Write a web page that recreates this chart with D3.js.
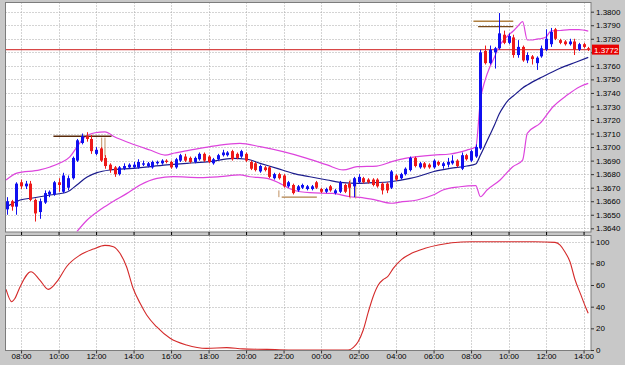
<!DOCTYPE html>
<html>
<head>
<meta charset="utf-8">
<script src="https://cdn.jsdelivr.net/npm/d3@7"></script>
<style>
  body { margin: 0; background: #c8c8c8; }
  svg { display: block; font-family: "Liberation Sans", Arial, sans-serif; }
</style>
</head>
<body>
<div id="chart"></div>
<script>
// 15 minute bars, 07:15 .. 14:15 next day (125 bars)
var opens  = [1.3654,1.3660,1.3656,1.3674,1.3671,1.3673,1.3661,1.3652,1.3659,1.3665,
              1.3665,1.3674,1.3667,1.3670,1.3677,1.3690,1.3703,1.3708,1.3706,1.3695,
              1.3699,1.3692,1.3687,1.3685,1.3680,1.3684,1.3685,1.3685,1.3685,1.3687,
              1.3686,1.3685,1.3688,1.3688,1.3690,1.3689,1.3685,1.3690,1.3693,1.3692,
              1.3689,1.3691,1.3695,1.3693,1.3688,1.3691,1.3694,1.3694,1.3697,1.3695,
              1.3693,1.3695,1.3689,1.3688,1.3682,1.3685,1.3685,1.3677,1.3680,1.3679,
              1.3671,1.3672,1.3668,1.3670,1.3669,1.3669,1.3674,1.3669,1.3667,1.3671,
              1.3666,1.3667,1.3672,1.3673,1.3671,1.3674,1.3677,1.3676,1.3676,1.3676,
              1.3673,1.3673,1.3670,1.3679,1.3677,1.3680,1.3683,1.3692,1.3685,1.3688,
              1.3687,1.3685,1.3689,1.3686,1.3687,1.3688,1.3690,1.3684,1.3694,1.3690,
              1.3693,1.3699,1.3771,1.3762,1.3770,1.3773,1.3783,1.3777,1.3781,1.3768,
              1.3774,1.3764,1.3767,1.3762,1.3767,1.3772,1.3776,1.3787,1.3779,1.3778,
              1.3776,1.3778,1.3772,1.3776,1.3773]
var highs  = [1.3663,1.3661,1.3674,1.3676,1.3675,1.3675,1.3662,1.3662,1.3668,1.3668,
              1.3675,1.3677,1.3681,1.3679,1.3693,1.3706,1.3710,1.3711,1.3709,1.3700,
              1.3700,1.3694,1.3688,1.3686,1.3686,1.3688,1.3688,1.3689,1.3691,1.3690,
              1.3689,1.3690,1.3690,1.3691,1.3691,1.3690,1.3692,1.3695,1.3695,1.3693,
              1.3693,1.3696,1.3696,1.3694,1.3692,1.3695,1.3698,1.3697,1.3698,1.3696,
              1.3698,1.3696,1.3690,1.3689,1.3687,1.3686,1.3686,1.3681,1.3681,1.3680,
              1.3675,1.3673,1.3672,1.3673,1.3672,1.3672,1.3675,1.3670,1.3670,1.3672,
              1.3669,1.3675,1.3673,1.3675,1.3678,1.3680,1.3678,1.3677,1.3677,1.3677,
              1.3674,1.3674,1.3683,1.3680,1.3681,1.3685,1.3693,1.3693,1.3689,1.3689,
              1.3688,1.3691,1.3690,1.3689,1.3692,1.3694,1.3691,1.3696,1.3695,1.3698,
              1.3702,1.3772,1.3775,1.3775,1.3774,1.3799,1.3786,1.3784,1.3783,1.3779,
              1.3775,1.3770,1.3768,1.3767,1.3775,1.3787,1.3788,1.3788,1.3780,1.3779,
              1.3780,1.3780,1.3777,1.3777,1.3774]
var lows   = [1.3650,1.3653,1.3650,1.3669,1.3669,1.3660,1.3645,1.3647,1.3658,1.3663,
              1.3664,1.3667,1.3666,1.3668,1.3676,1.3689,1.3702,1.3704,1.3695,1.3694,
              1.3689,1.3684,1.3681,1.3678,1.3679,1.3683,1.3684,1.3684,1.3684,1.3686,
              1.3685,1.3684,1.3687,1.3687,1.3688,1.3684,1.3684,1.3689,1.3689,1.3688,
              1.3688,1.3690,1.3689,1.3688,1.3687,1.3690,1.3693,1.3693,1.3690,1.3691,
              1.3692,1.3689,1.3683,1.3682,1.3681,1.3682,1.3677,1.3676,1.3676,1.3670,
              1.3670,1.3665,1.3667,1.3669,1.3668,1.3668,1.3669,1.3666,1.3666,1.3667,
              1.3665,1.3666,1.3666,1.3663,1.3663,1.3673,1.3673,1.3673,1.3671,1.3670,
              1.3665,1.3666,1.3669,1.3675,1.3676,1.3679,1.3682,1.3685,1.3684,1.3684,
              1.3684,1.3684,1.3686,1.3684,1.3685,1.3687,1.3685,1.3683,1.3690,1.3689,
              1.3692,1.3698,1.3761,1.3761,1.3758,1.3772,1.3776,1.3776,1.3766,1.3766,
              1.3763,1.3762,1.3761,1.3757,1.3766,1.3771,1.3774,1.3779,1.3776,1.3775,
              1.3775,1.3768,1.3771,1.3773,1.3771]
var closes = [1.3660,1.3656,1.3673,1.3671,1.3673,1.3661,1.3651,1.3660,1.3666,1.3667,
              1.3674,1.3672,1.3679,1.3677,1.3692,1.3705,1.3708,1.3706,1.3697,1.3698,
              1.3690,1.3686,1.3683,1.3680,1.3685,1.3686,1.3687,1.3687,1.3689,1.3688,
              1.3688,1.3689,1.3689,1.3690,1.3689,1.3685,1.3691,1.3694,1.3690,1.3689,
              1.3692,1.3695,1.3690,1.3689,1.3691,1.3694,1.3696,1.3696,1.3691,1.3692,
              1.3697,1.3690,1.3684,1.3683,1.3686,1.3683,1.3678,1.3680,1.3677,1.3671,
              1.3674,1.3666,1.3671,1.3672,1.3671,1.3671,1.3670,1.3667,1.3669,1.3668,
              1.3668,1.3674,1.3667,1.3670,1.3677,1.3678,1.3674,1.3674,1.3672,1.3671,
              1.3668,1.3668,1.3682,1.3676,1.3680,1.3684,1.3692,1.3686,1.3688,1.3685,
              1.3685,1.3690,1.3687,1.3688,1.3689,1.3690,1.3686,1.3694,1.3691,1.3697,
              1.3700,1.3770,1.3762,1.3772,1.3773,1.3784,1.3777,1.3782,1.3768,1.3774,
              1.3764,1.3768,1.3765,1.3766,1.3773,1.3780,1.3785,1.3780,1.3777,1.3776,
              1.3778,1.3772,1.3776,1.3774,1.3772]

// bollinger bands: [bar, price]
var bandUpper = [[-0.2,1.36757],[2.1,1.36808],[7,1.36831],[9.2,1.36853],[11.3,1.36882],
  [13.4,1.36927],[14.9,1.37000],[16.6,1.37074],[18.8,1.37106],[20.9,1.37113],[23,1.37074],
  [26.2,1.37030],[30.5,1.36978],[33.7,1.36941],[35.8,1.36956],[39,1.36978],[43.3,1.37003],
  [45.4,1.37015],[49.7,1.37028],[54,1.37003],[58.9,1.36966],[64,1.36917],[68.3,1.36868],
  [71.7,1.36831],[74.7,1.36855],[78.9,1.36860],[82.1,1.36892],[84.9,1.36916],[87.5,1.36929],
  [90.9,1.36941],[94.5,1.36949],[98.1,1.36978],[100,1.37000],[101,1.37348],[102,1.37495],
  [103,1.37591],[104,1.37665],[105,1.37746],[106,1.37791],[107,1.37828],[108,1.37857],
  [109,1.37894],[110,1.37926],[111,1.37791],[112,1.37791],[113,1.37798],[114,1.37802],
  [115,1.37813],[116,1.37857],[118,1.37861],[120,1.37868],[122,1.37868],[124,1.37857]]
var bandMiddle = [[0,1.36560],[2.8,1.36609],[5.5,1.36624],[9.2,1.36646],[12.8,1.36668],
  [14.9,1.36720],[17.1,1.36779],[19.2,1.36811],[22,1.36831],[26.9,1.36843],[34.1,1.36868],
  [38.4,1.36880],[43.3,1.36892],[48.2,1.36917],[51.2,1.36910],[54,1.36880],[57.6,1.36843],
  [61,1.36806],[64.6,1.36781],[68.3,1.36757],[71.7,1.36737],[74.7,1.36732],[78.1,1.36737],
  [81.7,1.36744],[86,1.36769],[87.5,1.36781],[90.9,1.36818],[94.5,1.36843],[98.1,1.36860],
  [100,1.36875],[101,1.36941],[102,1.37015],[103,1.37089],[104,1.37163],[105,1.37244],
  [106,1.37303],[107,1.37348],[108,1.37377],[109,1.37407],[110,1.37437],[111,1.37459],
  [114.3,1.37520],[118,1.37582],[121.6,1.37630],[124,1.37663]]
var bandLower = [[14.9,1.36375],[17.1,1.36461],[19.8,1.36535],[22,1.36585],[25.6,1.36658],
  [28.4,1.36720],[32,1.36769],[35.4,1.36781],[41.2,1.36774],[45.4,1.36781],[49.7,1.36794],
  [51.8,1.36781],[55.5,1.36769],[58.2,1.36732],[61,1.36683],[64.6,1.36663],[69.5,1.36658],
  [73.2,1.36633],[75.3,1.36629],[78.1,1.36614],[82.1,1.36585],[83.8,1.36594],[87.5,1.36609],
  [90.9,1.36646],[93,1.36683],[96.6,1.36707],[100,1.36715],[101,1.36633],[102.4,1.36683],
  [105.2,1.36757],[107.9,1.36855],[110,1.36904],[111,1.37102],[113.7,1.37175],
  [116.5,1.37298],[119.5,1.37384],[122.2,1.37446],[124,1.37471]]

// oscillator in the lower window: [bar, value]
var oscillator = [[-0.2,56],[1,44.6],[1.7,47.7],[2.8,58.5],[5.1,72.3],[7,64.6],[8.8,56],
  [10.9,64.6],[12.7,76.9],[15.6,87.7],[18.4,93.2],[20.9,96.6],[22.7,95.4],[24.1,89.3],
  [25.5,76.9],[26.9,57],[28.4,43.1],[29.8,32.3],[31.9,21.5],[34.8,10.8],[38.3,4.6],
  [42.6,1.5],[46.9,2.2],[50.3,1],[55.5,0.6],[60,0],[66,0],[72.8,0],[73.9,2.5],[74.9,7.7],
  [76,18.5],[77.1,35.4],[78.1,49.2],[79.2,60],[80.3,65.2],[81.2,67.7],[82.4,75.4],
  [84.2,83.7],[86.3,89.3],[89.2,93.9],[92,96.9],[94.9,99],[99.1,100],[112.6,100],
  [116.9,99.4],[118,96.9],[119,90.8],[120.1,81.5],[121.2,64.6],[122.3,52.3],[123.4,40],
  [124,33.9]]

// horizontal levels [fromBar, toBar, price] and small vertical marks [bar, low, high]
var levels = [[9.9,22.3,1.3708],[58.6,66.1,1.3663],[99.5,108,1.3793],[100.5,108,1.3789]]
var levelColors = ["#5a2a0a","#b08048","#b08040","#7a4a18"]
var marks = [[20.2,1.3693,1.3707],[20.9,1.3693,1.3707],[58,1.3663,1.3668],
             [73.2,1.3662,1.3676],[74.4,1.3662,1.3676]]

var lastPrice = 1.3772
var priceTicks = [1.3640,1.3650,1.3660,1.3670,1.3680,1.3690,1.3700,1.3710,1.3720,
                  1.3730,1.3740,1.3750,1.3760,1.3770,1.3780,1.3790,1.3800]
var oscTicks = [0,20,40,60,80,100]
var timeLabels = ["08:00","10:00","12:00","14:00","16:00","18:00","20:00","22:00",
                  "00:00","02:00","04:00","06:00","08:00","10:00","12:00","14:00"]
var firstTickBar = 3, barsPerTick = 8

var W = 625, H = 365
var plot = {left: 5.5, right: 591, top: 2.5, mid1: 232, mid2: 235.5, bottom: 350.5}

var svg = d3.select("#chart").append("svg")
    .attr("width", W).attr("height", H)

svg.append("rect").attr("width", W).attr("height", H).attr("fill", "#c8c8c8")

var x = d3.scaleLinear().domain([0, 124]).range([7, 588.25])
var yP = d3.scaleLinear().domain([1.3640, 1.3800]).range([228.3, 11.7])
var yO = d3.scaleLinear().domain([0, 100]).range([350, 241.7])

var tickBars = timeLabels.map(function(d, k) { return firstTickBar + k * barsPerTick })

// panels
function panel(y0, y1, id) {
    svg.append("rect")
        .attr("x", plot.left).attr("y", y0)
        .attr("width", plot.right - plot.left).attr("height", y1 - y0)
        .attr("fill", "#fff").attr("stroke", "#7c7c7c")
    svg.append("clipPath").attr("id", id).append("rect")
        .attr("x", plot.left + 0.5).attr("y", y0 + 0.5)
        .attr("width", plot.right - plot.left - 1).attr("height", y1 - y0 - 1)
    return svg.append("g").attr("clip-path", "url(#" + id + ")")
}
var priceG = panel(plot.top, plot.mid1, "clipTop")
var oscG = panel(plot.mid2, plot.bottom, "clipBot")

// grid
var gridStyle = function(sel) {
    sel.attr("stroke", "#a8a8a8").attr("stroke-width", 1).attr("stroke-dasharray", "1,2")
}
priceG.selectAll(".hg").data(priceTicks).enter().append("line")
    .attr("x1", plot.left).attr("x2", plot.right)
    .attr("y1", function(d) { return Math.round(yP(d)) + 0.5 })
    .attr("y2", function(d) { return Math.round(yP(d)) + 0.5 })
    .call(gridStyle)
priceG.selectAll(".vg").data(tickBars).enter().append("line")
    .attr("x1", function(d) { return Math.round(x(d)) + 0.5 })
    .attr("x2", function(d) { return Math.round(x(d)) + 0.5 })
    .attr("y1", plot.top).attr("y2", plot.mid1)
    .call(gridStyle)
oscG.selectAll(".hg").data(oscTicks.slice(1)).enter().append("line")
    .attr("x1", plot.left).attr("x2", plot.right)
    .attr("y1", function(d) { return Math.round(yO(d)) + 0.5 })
    .attr("y2", function(d) { return Math.round(yO(d)) + 0.5 })
    .call(gridStyle)
oscG.selectAll(".vg").data(tickBars).enter().append("line")
    .attr("x1", function(d) { return Math.round(x(d)) + 0.5 })
    .attr("x2", function(d) { return Math.round(x(d)) + 0.5 })
    .attr("y1", plot.mid2).attr("y2", plot.bottom)
    .call(gridStyle)

// last price line
priceG.append("line")
    .attr("x1", plot.left).attr("x2", plot.right)
    .attr("y1", yP(lastPrice)).attr("y2", yP(lastPrice))
    .attr("stroke", "#d84848").attr("stroke-width", 1.3)

// bands
var bandLine = d3.line()
    .x(function(d) { return x(d[0]) })
    .y(function(d) { return yP(d[1]) })
    .curve(d3.curveMonotoneX)
priceG.append("path").datum(bandUpper).attr("d", bandLine)
    .attr("fill", "none").attr("stroke", "#dd44dd").attr("stroke-width", 1.2)
priceG.append("path").datum(bandLower).attr("d", bandLine)
    .attr("fill", "none").attr("stroke", "#dd44dd").attr("stroke-width", 1.2)
priceG.append("path").datum(bandMiddle).attr("d", bandLine)
    .attr("fill", "none").attr("stroke", "#1c1c8c").attr("stroke-width", 1.2)

// levels and marks
priceG.selectAll(".lvl").data(levels).enter().append("line")
    .attr("x1", function(d) { return x(d[0]) })
    .attr("x2", function(d) { return x(d[1]) })
    .attr("y1", function(d) { return yP(d[2]) })
    .attr("y2", function(d) { return yP(d[2]) })
    .attr("stroke", function(d, k) { return levelColors[k] })
    .attr("stroke-width", 1.4)
priceG.selectAll(".mk").data(marks).enter().append("line")
    .attr("x1", function(d) { return x(d[0]) })
    .attr("x2", function(d) { return x(d[0]) })
    .attr("y1", function(d) { return yP(d[1]) })
    .attr("y2", function(d) { return yP(d[2]) })
    .attr("stroke", "#c09060").attr("stroke-width", 1)

// candles
var bars = d3.range(opens.length)
var bull = "#1010f0", bear = "#ee1a1a"
var cg = priceG.selectAll(".c").data(bars).enter().append("g")
cg.append("line")
    .attr("x1", function(i) { return Math.round(x(i)) + 0.5 })
    .attr("x2", function(i) { return Math.round(x(i)) + 0.5 })
    .attr("y1", function(i) { return yP(highs[i]) })
    .attr("y2", function(i) { return yP(lows[i]) })
    .attr("stroke", function(i) { return closes[i] >= opens[i] ? bull : bear })
cg.append("rect")
    .attr("x", function(i) { return Math.round(x(i)) - 1 })
    .attr("width", 3)
    .attr("y", function(i) { return yP(Math.max(opens[i], closes[i])) })
    .attr("height", function(i) {
        return Math.max(1.2, Math.abs(yP(opens[i]) - yP(closes[i])))
    })
    .attr("fill", function(i) { return closes[i] >= opens[i] ? bull : bear })

// oscillator
var oscLine = d3.line()
    .x(function(d) { return x(d[0]) })
    .y(function(d) { return yO(d[1]) })
    .curve(d3.curveMonotoneX)
oscG.append("path").datum(oscillator).attr("d", oscLine)
    .attr("fill", "none").attr("stroke", "#d42a2a").attr("stroke-width", 1.1)

// axes (the price tag hides the tick label right under it)
var fmt = d3.format(".4f")
var priceAxis = d3.axisRight(yP).tickValues(priceTicks)
    .tickFormat(function(d) {
        return Math.abs(yP(d) - yP(lastPrice)) < 8 ? "" : fmt(d)
    })
    .tickSize(3).tickPadding(2)
var gp = svg.append("g").attr("transform", "translate(" + plot.right + ",0)").call(priceAxis)
var oscAxis = d3.axisRight(yO).tickValues(oscTicks).tickSize(3).tickPadding(2)
var go = svg.append("g").attr("transform", "translate(" + plot.right + ",0)").call(oscAxis)
var timeAxis = d3.axisBottom(x).tickValues(tickBars)
    .tickFormat(function(d, k) { return timeLabels[k] }).tickSize(3).tickPadding(0)
var gt = svg.append("g").attr("transform", "translate(0," + plot.bottom + ")").call(timeAxis)
var tickMid = d3.axisBottom(x).tickValues(tickBars).tickFormat("").tickSize(3)
svg.append("g").attr("transform", "translate(0," + plot.mid1 + ")").call(tickMid)

;[gp, go, gt].forEach(function(g) {
    g.select(".domain").remove()
    g.selectAll("text").attr("font-size", 8).attr("fill", "#000")
        .attr("font-family", "Liberation Sans, Arial, sans-serif")
    g.selectAll("line").attr("stroke", "#333")
})
svg.selectAll(".domain").remove()

// last price label
var lp = svg.append("g").attr("transform", "translate(592," + yP(lastPrice) + ")")
lp.append("rect").attr("x", 0).attr("y", -5).attr("width", 27).attr("height", 10)
    .attr("fill", "#e80000")
lp.append("text").attr("x", 2).attr("y", 3).attr("font-size", 8).attr("fill", "#fff")
    .text(fmt(lastPrice))
</script>
</body>
</html>
